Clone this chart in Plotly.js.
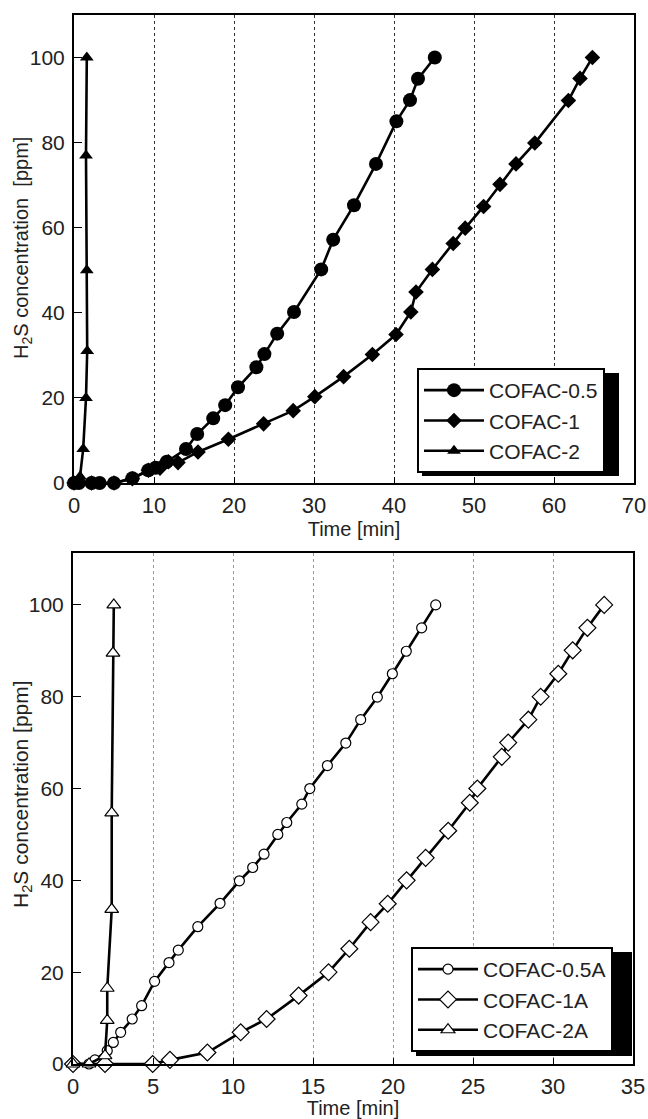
<!DOCTYPE html>
<html>
<head>
<meta charset="utf-8">
<script src="https://cdn.plot.ly/plotly-3.0.1.min.js"></script>
<style>html,body{margin:0;padding:0;background:#fff;}#chart{width:648px;height:1119px;}</style>
</head>
<body>
<div id="chart"></div>
<script>
// ---- Top panel data ----
const names1 = ["COFAC-0.5", "COFAC-1", "COFAC-2"];
const t05 = [0, 0.6, 2.2, 3.2, 5.0, 7.3, 9.3, 10.2, 11.6, 14.0, 15.4, 17.4, 18.9, 20.5, 22.8, 23.8, 25.4, 27.5, 30.9, 32.4, 35.0, 37.75, 40.3, 42.0, 43.0, 45.1];
const c05 = [0, 0, 0, 0, 0, 1.1, 3.0, 3.6, 5.0, 8.0, 11.5, 15.2, 18.3, 22.5, 27.2, 30.3, 35.1, 40.2, 50.2, 57.2, 65.3, 75, 85, 90, 95, 100];
const t1 = [0, 2.2, 5.0, 7.3, 9.3, 10.75, 11.8, 13.0, 15.5, 19.3, 23.7, 27.4, 30.1, 33.7, 37.3, 40.25, 42.1, 42.75, 44.8, 47.4, 48.9, 51.2, 53.25, 55.25, 57.6, 61.8, 63.25, 64.8];
const c1 = [0, 0, 0, 1, 3, 3.5, 5, 4.8, 7.3, 10.3, 13.9, 17, 20.3, 25, 30.2, 34.9, 40.2, 44.9, 50.2, 56.3, 59.9, 65, 70.2, 75, 79.9, 89.9, 95.1, 100];
const t2 = [0, 0.75, 1.15, 1.5, 1.65, 1.6, 1.5, 1.6];
const c2 = [0, 1.5, 8, 20, 31, 50, 77, 100];
const xticks1 = [0, 10, 20, 30, 40, 50, 60, 70];
const yticks = [0, 20, 40, 60, 80, 100];
const ytitle1 = "H<sub>2</sub>S concentration  [ppm]";
const xtitle = "Time [min]";

// ---- Bottom panel data ----
const names2 = ["COFAC-0.5A", "COFAC-1A", "COFAC-2A"];
const t05A = [0, 1.0, 1.37, 2.14, 2.52, 2.98, 3.7, 4.29, 5.1, 6.0, 6.58, 7.8, 9.19, 10.4, 11.23, 11.94, 12.8, 13.36, 14.3, 14.8, 15.9, 17.05, 17.98, 19.02, 19.96, 20.83, 21.79, 22.67];
const c05A = [0, 0, 0.9, 2.9, 4.7, 6.9, 9.8, 12.7, 18.0, 22.1, 24.8, 29.9, 35.0, 39.9, 42.8, 45.7, 50.0, 52.6, 56.6, 60, 65, 69.9, 75, 79.9, 85, 89.9, 95, 100];
const t1A = [0, 2.0, 4.98, 6.06, 8.4, 10.48, 12.1, 14.1, 15.97, 17.27, 18.6, 19.67, 20.85, 22.04, 23.45, 24.8, 25.27, 26.8, 27.2, 28.46, 29.23, 30.33, 31.23, 32.15, 33.2];
const c1A = [0, 0, 0, 0.9, 2.5, 6.9, 9.8, 14.9, 20, 25.1, 30.9, 34.9, 40, 44.9, 50.8, 56.9, 60, 66.9, 70, 75, 80, 85, 90.1, 95, 100];
const t2A = [0, 1.0, 2.0, 2.14, 2.14, 2.42, 2.42, 2.5, 2.55];
const c2A = [0, 0, 1.8, 9.5, 16.5, 33.7, 54.7, 89.5, 100];
const xticks2 = [0, 5, 10, 15, 20, 25, 30, 35];
const ytitle2 = "H<sub>2</sub>S concentration [ppm]";

const FONT = "Liberation Sans, Arial, sans-serif";
const lw = 2.6;

function tr(x, y, name, sym, size, fill, xa, ya, leg) {
  return {
    x: x, y: y, name: name, type: "scatter", mode: "lines+markers",
    xaxis: xa, yaxis: ya, legend: leg, cliponaxis: false,
    line: {color: "#000", width: lw},
    marker: {symbol: sym, size: size, color: fill, line: {color: "#000", width: fill === "#000" ? 0 : 1.2}}
  };
}

const data = [
  tr(t05, c05, names1[0], "circle", 14, "#000", "x", "y", "legend"),
  tr(t1, c1, names1[1], "diamond", 12, "#000", "x", "y", "legend"),
  tr(t2, c2, names1[2], "triangle-up", 12, "#000", "x", "y", "legend"),
  tr(t05A, c05A, names2[0], "circle", 10, "#fff", "x2", "y2", "legend2"),
  tr(t1A, c1A, names2[1], "diamond", 13, "#fff", "x2", "y2", "legend2"),
  tr(t2A, c2A, names2[2], "triangle-up", 12, "#fff", "x2", "y2", "legend2")
];

const W = 648, H = 1119;
const px = v => v / W;
const py = v => 1 - v / H;

function xax(dom, range, ticks, gcol, anchor, standoff) {
  return {
    domain: dom, range: range, anchor: anchor, tickvals: ticks, ticktext: ticks.map(String),
    showgrid: true, gridcolor: gcol, griddash: "dot", gridwidth: 1,
    showline: true, linecolor: "#000", linewidth: 2, mirror: true,
    ticks: "inside", ticklen: 6, tickcolor: "#000",
    ticklabelstandoff: 2,
    zeroline: false, tickfont: {family: FONT, size: 22, color: "#222"},
    title: {text: xtitle, font: {family: FONT, size: 20, color: "#222"}, standoff: standoff}
  };
}
function yax(dom, range, anchor) {
  return {
    domain: dom, range: range, anchor: anchor, tickvals: yticks, ticktext: yticks.map(String),
    showgrid: false, showline: true, linecolor: "#000", linewidth: 2, mirror: true,
    ticks: "inside", ticklen: 8, tickcolor: "#000", zeroline: false,
    ticklabelstandoff: 3,
    tickfont: {family: FONT, size: 21, color: "#222"}
  };
}

// legend positions (px)
const L1 = {x: 417, y: 368, w: 197, h: 103};
const L2 = {x: 411, y: 947, w: 216, h: 104};

function legendCfg(L) {
  return {
    x: px(L.x), y: py(L.y), xanchor: "left", yanchor: "top",
    bgcolor: "#fff", bordercolor: "#000", borderwidth: 2,
    itemwidth: 60,
    font: {family: FONT, size: 21, color: "#222"}, tracegroupgap: 0
  };
}
function shadow(L) {
  return {type: "rect", xref: "paper", yref: "paper", layer: "above",
    x0: px(L.x + 5), x1: px(L.x + L.w + 5), y0: py(L.y + L.h + 5), y1: py(L.y + 5),
    fillcolor: "#000", line: {width: 0}};
}
function ytitleAnn(text, xc, yc, size) {
  return {text: text, xref: "paper", yref: "paper", x: px(xc), y: py(yc),
    xanchor: "center", yanchor: "middle", textangle: -90, showarrow: false,
    font: {family: FONT, size: size, color: "#222"}};
}

const layout = {
  width: W, height: H,
  margin: {l: 0, r: 0, t: 0, b: 0},
  paper_bgcolor: "#fff", plot_bgcolor: "#fff",
  font: {family: FONT, color: "#222"},
  xaxis: xax([px(74), px(634)], [0, 70], xticks1, "#333", "y", 4),
  yaxis: yax([py(483), py(15)], [0, 110], "x"),
  xaxis2: xax([px(73), px(633)], [0, 35], xticks2, "#999", "y2", 0),
  yaxis2: yax([py(1064), py(553)], [0, 111.3], "x2"),
  legend: legendCfg(L1),
  legend2: legendCfg(L2),
  shapes: [shadow(L1), shadow(L2)],
  annotations: [ytitleAnn(ytitle1, 22, 248, 20), ytitleAnn(ytitle2, 22, 794, 21)],
  showlegend: true
};

Plotly.newPlot("chart", data, layout, {staticPlot: true, displayModeBar: false});
</script>
</body>
</html>
